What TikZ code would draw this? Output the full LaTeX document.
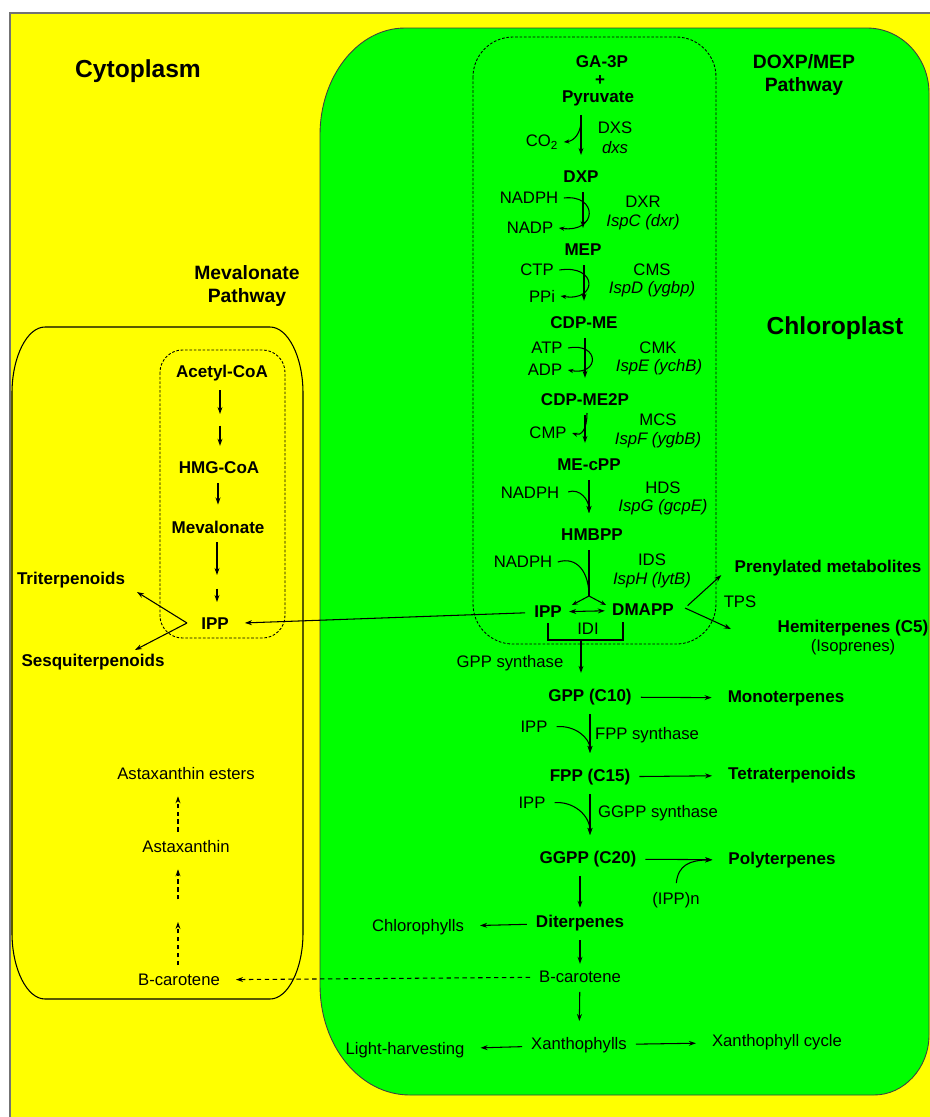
\documentclass[tikz,border=0pt]{standalone}
\usepackage{fontspec}
\setmainfont{Liberation Sans}
\usetikzlibrary{arrows.meta}
\definecolor{cytoyellow}{RGB}{255,255,0}
\definecolor{chlorogreen}{RGB}{0,255,0}
\tikzset{
  met/.style={font=\fontsize{9.7}{11}\selectfont\bfseries,inner sep=3pt},
  lab/.style={font=\fontsize{9.5}{11}\selectfont,inner sep=3pt},
  gene/.style={font=\fontsize{9.5}{11}\selectfont\itshape,inner sep=1pt},
  ttl/.style={font=\fontsize{11}{13}\selectfont\bfseries,align=center},
  big/.style={font=\fontsize{14}{16}\selectfont\bfseries},
  tip/.style={-{Stealth[length=4pt,width=2.8pt]},line width=0.6pt},
  cof/.style={-{Stealth[length=3.2pt,width=2.4pt]},line width=0.6pt},
  rxn/.style={tip,shorten >=6pt,shorten <=2pt},
  drxn/.style={rxn,dash pattern=on 2.5pt off 2pt},
  pathbox/.style={line width=0.5pt,dash pattern=on 1.5pt off 1pt},
}
\begin{document}
\begin{tikzpicture}[x=0.02cm,y=-0.02cm]
\useasboundingbox (0,0) rectangle (930,1117);
% cytoplasm and chloroplast
\fill[cytoyellow] (10,13) rectangle (930,1117);
\draw[black!55,line width=1.2pt] (10,1117)--(10,13)--(930,13);
\filldraw[fill=chlorogreen,draw=black!75,line width=0.5pt] (405,28) -- (867,28) .. controls (901,28) and (929,57) .. (929,93) -- (929,1035) .. controls (929,1068) and (904,1095) .. (874,1095) -- (410,1095) .. controls (360,1095) and (320,1046) .. (320,985) -- (320,135) .. controls (320,76) and (358,28) .. (405,28) -- cycle;
\draw[line width=0.6pt] (45,327) -- (270,327) .. controls (288,327) and (303,357) .. (303,393) -- (303,933) .. controls (303,969) and (288,999) .. (270,999) -- (45,999) .. controls (27,999) and (12,969) .. (12,933) -- (12,393) .. controls (12,357) and (27,327) .. (45,327) -- cycle;
\draw[pathbox,rounded corners=0.45cm] (160,350) rectangle (285,638);
\draw[pathbox,rounded corners=0.8cm] (473,37) rectangle (716,644);
\node[big] (cyto) at (138,71) {Cytoplasm};
\node[big] (chloro) at (835,328) {Chloroplast};
\node[ttl] (mepttl) at (804,75) {DOXP/MEP\\Pathway};
\node[ttl] (mevttl) at (247,286) {Mevalonate\\Pathway};
% DOXP/MEP pathway
\node[met] (ga) at (602,62) {GA-3P};
\node[met] (plus) at (600,80) {+};
\node[met] (pyr) at (598,98) {Pyruvate};
\node[met] (dxp) at (581,177) {DXP};
\node[met] (mep) at (583,250) {MEP};
\node[met] (cdpme) at (584,323) {CDP-ME};
\node[met] (cdpme2p) at (585,400) {CDP-ME2P};
\node[met] (mecpp) at (589,465) {ME-cPP};
\node[met] (hmbpp) at (592,535) {HMBPP};
\node[met] (ipp) at (548,612) {IPP};
\node[met] (dmapp) at (643,610) {DMAPP};
\node[lab] (co2) at (542,142) {CO\textsubscript{2}};
\node[lab] (dxs) at (615,128) {DXS};
\node[gene] (dxsg) at (615,148) {dxs};
\node[lab] (nadph1) at (529,198) {NADPH};
\node[lab] (nadp) at (530,228) {NADP};
\node[lab] (dxr) at (643,202) {DXR};
\node[gene] (dxrg) at (643,222) {IspC (dxr)};
\node[lab] (ctp) at (537,270) {CTP};
\node[lab] (ppi) at (542,296) {PPi};
\node[lab] (cms) at (652,270) {CMS};
\node[gene] (cmsg) at (652,289) {IspD (ygbp)};
\node[lab] (atp) at (547,348) {ATP};
\node[lab] (adp) at (545,370) {ADP};
\node[lab] (cmk) at (658,348) {CMK};
\node[gene] (cmkg) at (659,367) {IspE (ychB)};
\node[lab] (cmp) at (548,433) {CMP};
\node[lab] (mcs) at (658,420) {MCS};
\node[gene] (mcsg) at (658,440) {IspF (ygbB)};
\node[lab] (nadph2) at (530,493) {NADPH};
\node[lab] (hds) at (663,488) {HDS};
\node[gene] (hdsg) at (663,507) {IspG (gcpE)};
\node[lab] (nadph3) at (523,562) {NADPH};
\node[lab] (ids) at (652,560) {IDS};
\node[gene] (idsg) at (652,580) {IspH (lytB)};
\node[lab] (idi) at (588,629) {IDI};
\coordinate (dxsa) at (581,117);
\coordinate (mcsa) at (587,413);
\coordinate (fork) at (589,596);
\coordinate (idib) at (581,640);
\coordinate (idir) at (623,622);
\draw[rxn] (pyr.south-|dxp) -- (dxp);
\draw[cof] (dxsa) .. controls (582,133) and (574,141) .. (co2.east);
\draw[rxn] (dxp.south-|mep) -- (mep);
\draw[cof] (nadph1.east) .. controls (598,194) and (598,233) .. (nadp.east);
\draw[rxn] (mep.south-|cdpme) -- (cdpme);
\draw[cof] (ctp.east) .. controls (598,264) and (598,302) .. (ppi.east);
\draw[rxn] (cdpme.south-|cdpme2p) -- (cdpme2p);
\draw[cof] (atp.east) .. controls (600,342) and (600,376) .. (adp.east);
\draw[rxn] (cdpme2p.south) -- (cdpme2p.south|-mecpp.north);
\draw[cof] (mcsa) .. controls (587,430) and (581,436) .. (cmp.east);
\draw[rxn] (mecpp.south) -- (mecpp.south|-hmbpp.north);
\draw[rxn] (nadph2.east) .. controls (580,488) and (589,500) .. (mecpp.south|-hmbpp.north);
\draw[line width=0.6pt,shorten <=2pt] (hmbpp.south-|fork) -- (fork);
\draw[line width=0.6pt] (nadph3.east) .. controls (577,556) and (589,572) .. (fork);
\draw[cof] (fork) -- ++(-17,9);
\draw[cof] (fork) -- ++(17,9);
\draw[{Stealth[length=4pt,width=2.8pt]}-{Stealth[length=4pt,width=2.8pt]},line width=0.6pt,shorten <=1pt,shorten >=1pt] (ipp) -- (dmapp);
\draw[line width=0.6pt] (ipp.south) |- (idib) -| (idir);
% prenyl branches
\coordinate (tfork) at (685,608);
\coordinate (hemiend) at (731,629);
\node[met] (pren) at (828,568) {Prenylated metabolites};
\node[met] (hemi) at (853,628) {Hemiterpenes (C5)};
\node[lab] (iso) at (853,647) {(Isoprenes)};
\node[lab] (tps) at (740,602) {TPS};
\draw[rxn] (tfork) -- (pren.west);
\draw[tip] (tfork) -- (hemiend);
% chain elongation
\node[met] (gpp) at (590,697) {GPP (C10)};
\node[lab] (gpps) at (510,663) {GPP synthase};
\draw[rxn,shorten <=0pt] (idib) -- (idib|-gpp.north);
\node[met] (mono) at (786,698) {Monoterpenes};
\draw[rxn] (gpp) -- (mono);
\node[met] (fpp) at (590,777) {FPP (C15)};
\node[met] (tetra) at (792,775) {Tetraterpenoids};
\draw[rxn] (fpp) -- (tetra);
\node[lab] (ipp1) at (534,727) {IPP};
\node[lab] (fpps) at (647,735) {FPP synthase};
\draw[rxn] (gpp.south) -- (fpp.north);
\draw[rxn] (ipp1.east) .. controls (575,725) and (590,738) .. (fpp.north);
\node[met] (ggpp) at (588,859) {GGPP (C20)};
\node[met] (poly) at (782,860) {Polyterpenes};
\draw[rxn] (ggpp) -- (poly);
\node[lab] (ipp2) at (532,803) {IPP};
\node[lab] (ggpps) at (658,813) {GGPP synthase};
\draw[rxn] (fpp.south) -- (fpp.south|-ggpp.north);
\draw[rxn] (ipp2.east) .. controls (573,801) and (590,815) .. (fpp.south|-ggpp.north);
\node[lab] (ippn) at (676,900) {(IPP)n};
\draw[rxn] (ippn.north) .. controls (678,865) and (690,860) .. (poly.west);
\node[met] (diter) at (580,923) {Diterpenes};
\node[lab] (chl) at (418,927) {Chlorophylls};
\draw[rxn,shorten >=1pt] (ggpp.south-|diter) -- (diter);
\draw[rxn] (diter) -- (chl);
\node[lab] (bcar) at (580,977) {B-carotene};
\draw[rxn,shorten >=1pt] (diter) -- (bcar);
\node[lab] (xan) at (579,1045) {Xanthophylls};
\draw[rxn] (bcar) -- (xan);
\node[lab] (lh) at (405,1050) {Light-harvesting};
\draw[rxn] (xan) -- (lh);
\node[lab] (xc) at (777,1042) {Xanthophyll cycle};
\draw[rxn] (xan) -- (xc);
% mevalonate pathway
\node[met] (acoa) at (222,373) {Acetyl-CoA};
\node[met] (hmg) at (219,468) {HMG-CoA};
\node[met] (mev) at (218,527) {Mevalonate};
\node[met] (ippm) at (215,624) {IPP};
\coordinate (m1a) at (220,414);
\coordinate (m1b) at (220,422);
\coordinate (m2a) at (217,575);
\coordinate (m2b) at (217,585);
\draw[rxn,shorten >=0pt] (acoa.south-|m1a) -- (m1a);
\draw[rxn] (m1b) -- (hmg.north-|m1b);
\draw[rxn] (hmg.south-|mev) -- (mev);
\draw[rxn,shorten >=0pt] (mev.south-|m2a) -- (m2a);
\draw[rxn] (m2b) -- (ippm.north-|m2b);
\draw[rxn] (ipp) -- (ippm);
\coordinate (mfork) at (187,623);
\coordinate (triend) at (137,592);
\coordinate (sesqend) at (135,650);
\node[met] (tri) at (71,580) {Triterpenoids};
\node[met] (sesq) at (93,662) {Sesquiterpenoids};
\draw[tip] (mfork) -- (triend);
\draw[tip] (mfork) -- (sesqend);
% carotenoids in the cytoplasm
\node[lab] (bcarm) at (179,980) {B-carotene};
\node[lab] (asta) at (186,847) {Astaxanthin};
\node[lab] (aste) at (186,774) {Astaxanthin esters};
\coordinate (d1a) at (178,922);
\coordinate (d1b) at (178,903);
\draw[drxn] (bcar) -- (bcarm);
\draw[drxn,shorten >=0pt] (bcarm.north-|d1a) -- (d1a);
\draw[drxn] (d1b) -- (asta.south-|d1b);
\draw[drxn] (asta.north-|d1a) -- (aste.south-|d1a);
\end{tikzpicture}
\end{document}
